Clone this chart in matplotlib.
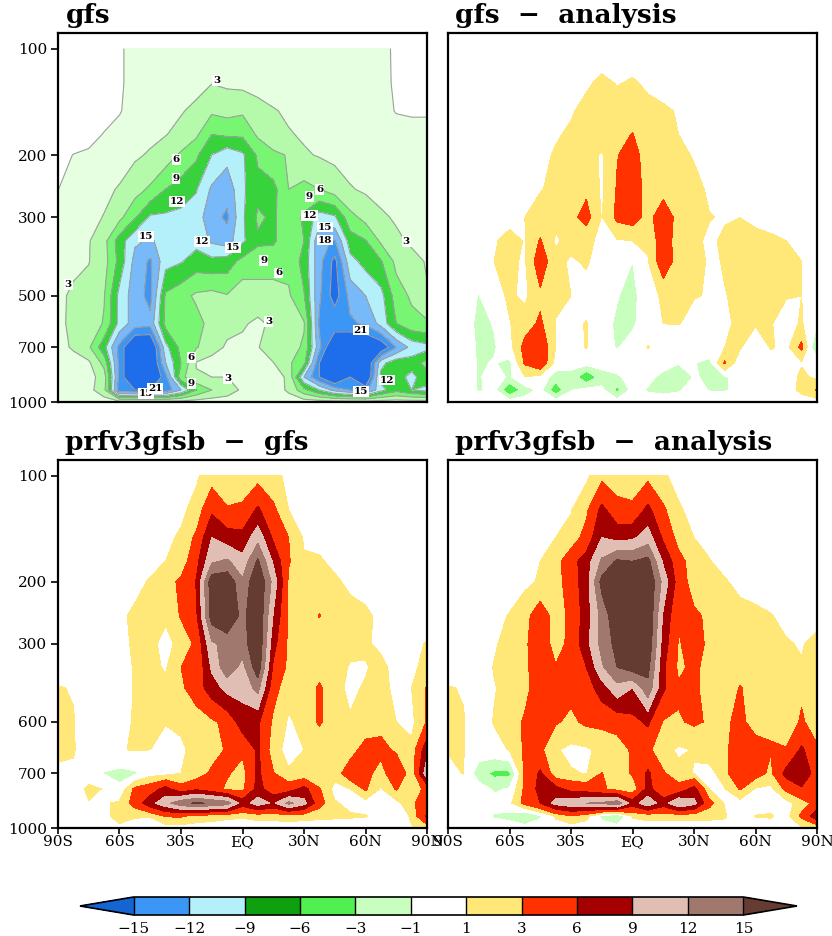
import matplotlib
matplotlib.use("Agg")
import matplotlib.pyplot as plt
import numpy as np
from matplotlib.colors import ListedColormap, BoundaryNorm
from matplotlib.colorbar import ColorbarBase

plt.rcParams['font.family'] = ['DejaVu Serif']

lat = [-90, -82.5, -75, -67.5, -60, -52.5, -45, -37.5, -30, -22.5, -15, -7.5, 0,
       7.5, 15, 22.5, 30, 37.5, 45, 52.5, 60, 67.5, 75, 82.5, 90]
lev = [100, 125, 150, 175, 200, 250, 300, 350, 400, 500, 600, 700, 775, 850, 925, 1000]

# gfs
gfs = [
    [0, 0, 0, 0, .8, 1.5, 1.5, 1.5, 1.5, 1.5, 1.5, 1.5, 1.5, 1.5, 1.5, 1.5, 1.5, 1.5, 1.5, 1.5, 1.5, 1.5, .7, 0, 0],
    [0, 0, 0, 0, .8, 1.5, 1.6, 1.7, 1.8, 2.2, 2.9, 2.5, 2.2, 1.8, 1.7, 1.6, 1.5, 1.5, 1.5, 1.5, 1.5, 1.4, .8, 0, 0],
    [0, 0, 0, .3, .9, 1.6, 1.8, 2.2, 2.8, 3.6, 5.5, 5.0, 5.5, 4.2, 3.2, 2.6, 2.2, 2, 1.8, 1.6, 1.5, 1.3, .95, .9, .9],
    [0, 0, .4, 1.1, 1.5, 2, 2.4, 2.9, 3.8, 5.5, 9, 8.5, 8.5, 5.5, 4.2, 3.2, 2.7, 2.3, 2, 1.8, 1.6, 1.5, 1.4, 1.3, 1.3],
    [.3, 1.05, 1.3, 1.6, 2, 2.6, 3.3, 4.5, 6.5, 8.5, 12, 14, 12.5, 8.5, 6.6, 5.8, 3.3, 2.8, 2.4, 2, 1.8, 1.6, 1.5, 1.4, 1.3],
    [.98, 1.5, 2, 2.5, 3.2, 4.8, 6.5, 9, 10.5, 11.8, 15.5, 17, 12.5, 10, 10, 6, 7, 6, 4.5, 3.2, 2.6, 2.2, 1.9, 1.7, 1.5],
    [1.4, 2, 2.4, 3.1, 5.2, 8.6, 12.5, 12.6, 12.8, 13.5, 17, 18.5, 12.5, 8.5, 9.5, 7, 9.5, 13.5, 12.5, 7, 5, 3.4, 2.7, 2.3, 2],
    [1.7, 2.2, 2.8, 5, 10.5, 14.5, 15.5, 13.5, 13, 13, 15.5, 16.5, 12.5, 9.5, 9.5, 7, 9, 17.5, 18.2, 10.5, 9.2, 5.5, 3.5, 2.6, 2.2],
    [1.8, 2.5, 2.9, 4.8, 10, 16, 18.5, 13, 12.2, 10.5, 11, 10.5, 8, 7.5, 7, 6.8, 10, 17, 22, 13, 11, 9.3, 5.2, 3.8, 2.8],
    [2.5, 3.4, 4, 5.8, 13, 16.5, 19, 8.5, 7, 5.5, 5, 5.8, 4, 4.5, 5, 5.6, 8.8, 17.5, 22.5, 17, 15, 13, 7.5, 5.5, 3.2],
    [2.5, 3.5, 4, 6.3, 13, 16.5, 17, 8, 7, 7, 5, 4, 3.3, 2.5, 3.5, 4.5, 5.7, 18.5, 18.5, 18.5, 17.5, 14, 9, 7, 6.5],
    [2.2, 3.3, 5.5, 11, 19, 26, 26, 13, 8, 6.2, 4.5, 2.5, 2.4, 2.8, 5, 4.6, 6.5, 17, 26, 26, 26, 24, 18, 14, 13],
    [1.5, 2, 2.5, 7, 19, 26, 26, 15, 9, 2.8, 1.6, 1.5, 1.5, 1.8, 2.9, 5.5, 8, 21, 26, 26, 26, 13, 10, 10.5, 8],
    [1.3, 1.5, 1.8, 4.5, 19, 26, 26, 19, 7, 3.3, 3, 3, 2, 1.5, 1.8, 3.5, 15, 21, 26, 21, 26, 11, 10.5, 13, 10],
    [1.3, 1.5, 2, 5, 20, 21, 21, 20, 15, 9, 6, 4.5, 2.5, 1.2, 1.4, 3.5, 8, 12, 16, 18, 19, 13, 10, 12, 13],
    [1.3, 1.3, 1.3, 1.5, 1.8, 1.8, 1.8, 1.8, 1.8, 1.6, 1.5, 1.5, 1.5, 1.5, 1.5, 1.5, 1.5, 1.5, 1.5, 1.5, 1.5, 1.5, 1.5, 1.5, 1.5],
]

# gfs - analysis
gfs_ana = [
    [0] * 25,
    [.1, .1, .1, .1, .1, .1, .2, .3, .5, .7, 1.4, .9, 1.2, .7, .5, .2, .1, .1, .1, .1, .1, .1, .1, .1, .1],
    [0, 0, 0, 0, 0, .1, .2, .5, .8, 1.6, 1.8, 1.8, 2, 1.5, 1.2, .9, .3, .1, 0, 0, 0, 0, 0, 0, 0],
    [0, 0, 0, 0, 0, .2, .4, .8, 1.3, 1.9, 2, 2.2, 3.1, 1.6, 1.1, 1.0, .4, .1, 0, 0, 0, 0, 0, 0, 0],
    [0, 0, 0, 0, .1, .2, .5, 1.2, 1.8, 1.7, .8, 2.9, 4, 1.8, 1.3, 1.6, .8, .2, .1, 0, 0, 0, 0, 0, 0],
    [0, 0, 0, .1, .2, .4, .9, 1.4, 1.5, 2.6, .7, 3.2, 4.5, 2, 2.2, 2, 1.8, .6, .2, .1, .1, 0, 0, 0, 0],
    [0, 0, 0, .2, .4, 1, 1.8, 1.3, 2.4, 3.8, .9, 3.5, 4, 2.2, 4.5, 2.2, 1.7, 1.1, .8, .98, .7, .4, .2, .1, 0],
    [0, 0, .1, .8, 1.6, .9, 3.2, .8, 1.5, 1.5, .5, .8, 1.0, 1.2, 4.5, 1.8, 1.5, .6, 1.4, 1.8, 1.4, 1.3, 1.0, .4, .2],
    [0, 0, .2, 1, 1.3, .8, 4.5, 1.4, .8, 1.2, .2, -.3, -1.0, .9, 4.5, 2, 2.5, .5, 1.2, 1.5, 1.6, 1.4, 1.1, 1.0, -.5],
    [0, 0, -1.1, .3, 1.3, .6, 2.5, 1.4, 1.0, .3, -.2, -.9, -1.6, .3, 1.3, 1.5, 1.1, .9, .9, 1.5, 1.4, 1.4, 1.1, 1, -.5],
    [-.5, 0, -1.5, -.9, .9, 2, 3.4, .9, .5, 1.1, -.3, -1.3, -1.2, -.3, 1.0, 1.1, .3, .3, .5, 1.6, 1.2, 1.1, .3, 1.2, -1],
    [-.6, .1, -1.3, -1.2, .3, 3.8, 5, 1, .3, 1.1, -.5, -1.1, -.5, 1.1, 0, -.9, .2, .4, 1.0, 1.2, -.7, 1.2, .4, 3.6, -3.5],
    [0, 0, -1.2, -.9, -1.5, 3.3, 5, .3, -.6, -.2, -.1, -.1, -.5, -.2, -.3, -.8, -.9, -1.6, 3.3, -.4, -.2, 0, -.3, .8, .3],
    [0, 0, -1.2, -.2, -1.3, .9, .5, -2, -1.4, -5, -2, -1.3, -.3, -.5, -1.5, -3.2, -.8, -1.4, -1.2, -.3, -.2, 0, -.2, 1.5, .5],
    [0, 0, -1.2, -.5, -5, -2, -.5, -4.5, -1.1, -.3, -.5, -3.6, -.3, -1.2, -1.5, -1.2, -.3, -1.1, -1.2, -.3, -.2, -.1, -.1, 1.5, 3.2],
    [0] * 25,
]

# prfv3gfsb - gfs
prf_gfs = [
    [0, 0, 0, 0, 0, 0, 0, 0, .3, .8, 1.8, 1.5, 1.2, 2, 1.5, .6, 0, 0, 0, 0, 0, 0, 0, 0, 0],
    [0, 0, 0, 0, 0, 0, 0, .1, .7, 1.5, 5.5, 3.2, 3.6, 6.5, 3.5, 1.0, .4, .1, 0, 0, 0, 0, 0, 0, 0],
    [0, 0, 0, 0, 0, 0, .2, .7, 1.2, 3.5, 9, 7.5, 7, 11, 5.5, 3, .8, .5, .1, 0, 0, 0, 0, 0, 0],
    [0, 0, 0, 0, 0, .1, .4, 1.0, 1.6, 5, 11.5, 12.5, 10, 15.5, 8.5, 3.2, 1.2, 1.2, .6, .1, 0, 0, 0, 0, 0],
    [0, 0, 0, 0, 0, .4, 1.2, 2, 3.5, 6.2, 17, 17.5, 12.5, 18, 11, 2.6, 1.8, 1.7, 1.3, .6, .2, 0, 0, 0, 0],
    [0, 0, 0, 0, .6, 1.4, 1.8, 1.3, 3.2, 5.5, 16.5, 18, 14, 18, 8.8, 2.5, 1.8, 3.1, 1.8, 1.7, 1.4, .5, .1, 0, 0],
    [0, 0, 0, 0, .6, 1.2, 1.5, .4, 1.6, 3.5, 11.5, 13, 13.5, 18, 7, 2.5, 1.5, 1.5, 1.4, 1.3, 1.2, .7, .4, .6, 1.1],
    [0, 0, 0, 0, .5, 1.1, 1.5, .8, 3, 3.3, 9.5, 14, 11, 17, 5.5, 2.4, 1.6, 1.8, 1.5, .9, .9, 1.4, .5, .6, 1.6],
    [1.1, .9, 0, 0, .3, 1.1, 1.6, 1.5, 2.5, 4.5, 7.5, 10, 10, 13, 4, 1.5, 1.3, 3.4, 1.3, .8, 1.1, 1.5, .6, 1, 3.2],
    [1.2, 1.1, 0, 0, .3, 1.2, 1.4, 1.1, 1.1, 1.5, 2.5, 3.8, 7.5, 6.5, 2.5, .8, 1.5, 3.3, 1.6, 1.1, 1.5, 2, 1, .5, 3.2],
    [1.2, 1.1, .2, .3, .9, 1.1, 1, .2, .9, 1.2, 1.9, 3.3, 3.5, 6.5, 1.6, .5, 1.0, 1.4, 1.5, 2, 4, 4, 2.5, 1.5, 8],
    [.8, .8, .1, -1.1, -1.6, -1.3, .2, .3, 1, 1.6, 3.5, 3.3, 2, 6.6, 3.2, 1.2, 1.1, 1.1, 1.8, 4.5, 4.2, 1.5, 6, 1.2, 11],
    [0, 0, 1.4, .9, -.6, 3.5, 4.5, 7, 4, 5.5, 4.2, 2.5, 2.4, 7, 4.2, 4.5, 7, 3.2, .3, 1, 3.3, .8, 3.2, 1, 4],
    [0, 0, .9, .8, 1.3, 4, 8, 11, 14, 15.5, 14.5, 13.5, 7.5, 10.5, 8.5, 12.8, 10, 4, 1.2, .5, .2, .5, .3, 2.5, 4.5],
    [0, 0, .2, .5, 1.8, 1.2, 1.1, 3.2, 3.3, 2.2, 1.8, 1.4, 1.2, 1.6, 1.6, 1.8, 1.6, 1.4, 1.3, 1.2, 1.1, .3, .1, 1.2, 6.5],
    [0, 0, 0, 0, .5, .1, 0, 0, .1, 0, 0, 0, 0, 0, 0, 0, 0, 0, 0, 0, 0, 0, 0, .9, 1.5],
]

# prfv3gfsb - analysis
prf_ana = [
    [0, 0, 0, 0, 0, 0, 0, 0, .2, .6, 2.3, 1.6, 1.5, 2.3, 1.2, .5, 0, 0, 0, 0, 0, 0, 0, 0, 0],
    [0, 0, 0, 0, 0, 0, 0, .2, .9, 2.5, 6.8, 4, 3.6, 6.8, 3.4, 1.2, .5, .1, 0, 0, 0, 0, 0, 0, 0],
    [0, 0, 0, 0, 0, .1, .5, 1, 1.6, 4, 9, 8, 8.5, 10.5, 5.5, 2, 1, .4, .1, 0, 0, 0, 0, 0, 0],
    [0, 0, 0, 0, .1, .3, 1.0, 2, 4.8, 7.5, 12.5, 15.5, 15, 16, 8.5, 4, 1.7, 1.1, .3, .1, 0, 0, 0, 0, 0],
    [0, 0, 0, 0, .2, .6, 1.2, 1.8, 4.5, 7.5, 16, 18, 18, 18, 11, 4.5, 1.8, 1.6, 1.2, .4, .1, 0, 0, 0, 0],
    [0, 0, 0, .5, 1.1, 2.2, 4.5, 2, 3.5, 7.5, 13, 17.5, 18, 18, 8.5, 3.2, 3.5, 2.5, 1.6, 1.8, 1.5, 1.1, .4, 0, 0],
    [0, 0, 0, .8, 1.6, 2.5, 5, 1.8, 3.8, 8, 13, 16, 17, 17.5, 7.5, 2.8, 4, 2.5, 1.1, 1.7, 1.7, 1.6, 1.2, .8, 1.8],
    [0, 0, 0, 1.1, 1.6, 2.5, 4.5, 3.2, 3.8, 6, 11.5, 15, 16.5, 16, 6.5, 2.5, 3.6, 2, 1.6, 1.6, 1.5, 1.3, 1.0, 1.2, 2],
    [1.1, .9, 0, .9, 1.5, 2, 5, 3.5, 3.5, 4.5, 7.5, 11, 9, 14, 6.5, 3.3, 3.5, 2, 1.3, 3.2, 1.6, 1.5, 1.1, 2.5, 3],
    [1.2, 1.1, .1, 1.1, 1.2, 3.5, 4.5, 3.2, 2.6, 3.4, 3.5, 3.8, 5, 6.5, 2.8, 2.8, 3.3, 2.8, 2.8, 3.3, 2.5, 2.8, 1.3, 3.4, 1.5],
    [1.1, 1.05, .1, .4, 1.1, 3.4, 3.5, 1.2, .5, .7, 1.5, 2, 3.3, 3.5, 1.6, .7, 1.1, 2, 2.8, 3.6, 3.6, 3.1, 3.2, 6.5, 3.5],
    [.5, 1.05, -2.2, -3.5, -3.5, 3.4, 6.5, 1.3, 1.2, .9, 3.1, 1.6, 3.3, 6.5, 3.3, 1.6, .9, .3, 2, 6, 4, 2.5, 7, 9, 4],
    [0, 0, 0, -1.3, -.8, 3.5, 7, 7, 5, 4.5, 3.5, 2, 1.2, 7, 3.5, 4, 7, 1, .9, 3.2, .8, .5, 3.6, 5.5, 3],
    [0, 0, -.5, -.3, .5, 3.8, 6, 10, 11, 12, 12.5, 14, 7.5, 11, 7.5, 12, 10, 3.8, .8, .1, -.4, .2, .2, 2, 3.8],
    [0, 0, 0, -1.2, -1.6, -3.3, -1.3, 1.3, 2.8, 1.6, -1.5, -3.2, 1.2, 1.6, 1.6, 1.5, 1.5, 1.5, 1.3, -1.1, 1.1, 1.2, .2, 3.5, 8],
    [0, 0, 0, 0, 0, 0, 0, 0, 0, 0, 0, 0, 0, 0, 0, 0, 0, 0, 0, 0, 0, 0, 0, .9, 1],
]

diff_levels = [-15, -12, -9, -6, -3, -1, 1, 3, 6, 9, 12, 15]
diff_colors = ['#1464d2', '#3c96f5', '#b4f0fa', '#0fa00f', '#50f050', '#c8ffbe', '#ffffff',
               '#ffe878', '#ff3200', '#a50000', '#e1beb4', '#a0786e', '#643c32']
gfs_levels = [1, 3, 6, 9, 12, 15, 18, 21]
gfs_colors = ['#e6ffe1', '#b4faaa', '#78f573', '#37d23c', '#b4f0fa', '#78b9fa', '#3c96f5', '#1e6eeb']

x_ticks = [-90, -60, -30, 0, 30, 60, 90]
x_labels = ['90S', '60S', '30S', 'EQ', '30N', '60N', '90N']
y_ticks = [100, 200, 300, 500, 700, 1000]
y_labels_top = ['100', '200', '300', '500', '700', '1000']
y_labels_bottom = ['100', '200', '300', '600', '700', '1000']

# contour labels of the gfs panel: text, lat, pressure
gfs_labels = [('3', -12.5, 123), ('6', -32.4, 206), ('9', -32.4, 233), ('12', -32, 271),
              ('15', -47.2, 340), ('12', -19.8, 352), ('15', -4.7, 366), ('3', -85, 465),
              ('9', 10.3, 397), ('6', 17.6, 431), ('3', 12.7, 593), ('9', 32.7, 262),
              ('6', 37.6, 250), ('12', 32.7, 296), ('15', 40.4, 320), ('18', 40.4, 348),
              ('3', 79.9, 352), ('21', 57.8, 626), ('12', 70.5, 867), ('15', 57.8, 935),
              ('6', -24.9, 748), ('9', -24.9, 886), ('3', -7.3, 857), ('15', -47.2, 945),
              ('21', -42.6, 915)]

W, H = 832, 936
fig = plt.figure(figsize=(W / 100, H / 100), dpi=100)


def pixel_axes(x0, y0, x1, y1):
    return fig.add_axes([x0 / W, 1 - y1 / H, (x1 - x0) / W, (y1 - y0) / H])


def panel(ax, field, title, ylabels=None, xlabels=False):
    z = np.array(field, dtype=float)
    if field is gfs:
        ax.contourf(lat, lev, z, levels=gfs_levels, colors=gfs_colors, extend='max')
        ax.contour(lat, lev, z, levels=gfs_levels, colors='#a0a0a0', linewidths=0.8)
        for txt, la, pr in gfs_labels:
            ax.text(la, pr, txt, fontsize=7.5, fontweight='bold', ha='center', va='center',
                    bbox=dict(fc='white', ec='none', pad=0.6))
    else:
        ax.contourf(lat, lev, z, levels=diff_levels, colors=diff_colors, extend='both')
    ax.set_yscale('log')
    ax.set_xlim(-90, 90)
    ax.set_ylim(1000, 90)
    ax.minorticks_off()
    ax.tick_params(axis='both', which='both', length=0, labelsize=11, pad=5)
    if ylabels:
        ax.set_yticks(y_ticks, ylabels)
        ax.tick_params(axis='y', length=5, width=1.2, pad=3)
    else:
        ax.set_yticks([])
    if xlabels:
        ax.set_xticks(x_ticks, x_labels)
        ax.tick_params(axis='x', length=4, width=1.2, pad=1)
    else:
        ax.set_xticks([])
    for s in ax.spines.values():
        s.set_linewidth(1.6)
    ax.text(0.02, 1.012, title, transform=ax.transAxes, fontsize=19, fontweight='bold',
            ha='left', va='bottom')


panel(pixel_axes(58, 32.5, 427, 402), gfs, 'gfs', ylabels=y_labels_top)
panel(pixel_axes(448, 32.5, 817, 402), gfs_ana, 'gfs  −  analysis')
panel(pixel_axes(58, 459.5, 427, 828), prf_gfs, 'prfv3gfsb  −  gfs', ylabels=y_labels_bottom, xlabels=True)
panel(pixel_axes(448, 459.5, 817, 828), prf_ana, 'prfv3gfsb  −  analysis', xlabels=True)

cax = pixel_axes(80, 897, 797, 915)
cmap = ListedColormap(diff_colors[1:-1])
cmap.set_under(diff_colors[0])
cmap.set_over(diff_colors[-1])
cb = ColorbarBase(cax, cmap=cmap, norm=BoundaryNorm(diff_levels, cmap.N), orientation='horizontal',
                  spacing='uniform', extend='both', extendfrac=0.088, ticks=diff_levels, drawedges=True)
cb.ax.set_xticklabels(['−15', '−12', '−9', '−6', '−3', '−1', '1', '3', '6', '9', '12', '15'])
cb.ax.tick_params(length=0, labelsize=11, pad=5)
cb.outline.set_linewidth(1.2)
cb.dividers.set_color('black')
cb.dividers.set_linewidth(1.0)

fig.savefig('out.png', dpi=100)
